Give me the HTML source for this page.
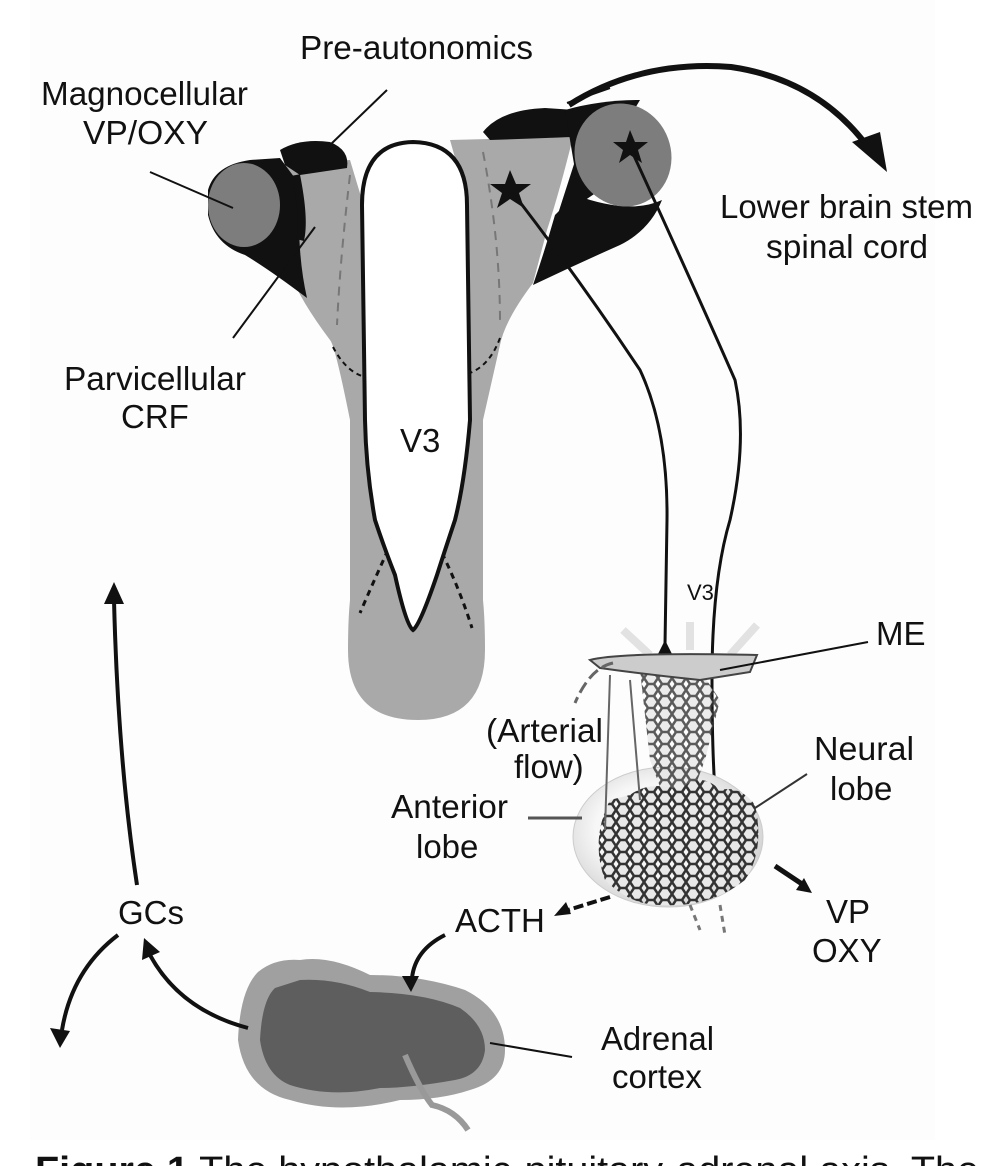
<!DOCTYPE html>
<html><head><meta charset="utf-8"><style>
html,body{margin:0;padding:0;background:#fff;}
svg{display:block;}
text{font-family:"Liberation Sans",sans-serif;fill:#111;}
</style></head><body>
<svg width="992" height="1166" viewBox="0 0 992 1166" xmlns="http://www.w3.org/2000/svg">
<defs>
<radialGradient id="sph" cx="0.45" cy="0.45" r="0.6"><stop offset="0.55" stop-color="#f7f7f7"/><stop offset="1" stop-color="#cfcfcf"/></radialGradient>
<pattern id="mesh" width="14" height="12" patternUnits="userSpaceOnUse"><path d="M0,6 L4,0 L10,0 L14,6 L10,12 L4,12 Z" fill="#e8e8e8" stroke="#333" stroke-width="2.5"/></pattern>
</defs>
<rect x="30" y="0" width="905" height="1140" fill="#fdfdfd"/>

<!-- gray funnel -->
<path d="M277,165 L350,160 L362,200 Q365,145 413,142 Q462,145 467,200 L450,140 L573,137 Q560,190 547,230 L533,283 Q505,320 500,345 L483,420 L483,600 Q485,620 485,650 Q485,720 418,720 Q348,720 348,650 Q348,620 350,600 L350,420 Q335,345 330,340 Q300,300 290,273 Z" fill="#a9a9a9"/>

<!-- left black + circle -->
<path d="M208,190 Q215,165 250,160 L280,158 L300,185 Q296,250 307,298 Q270,270 245,255 Q215,245 208,215 Z" fill="#111"/>
<path d="M280,150 Q300,138 330,142 Q350,150 347,168 L300,175 L285,165 Z" fill="#111"/>
<ellipse cx="244" cy="205" rx="36" ry="42" fill="#7d7d7d"/>
<path d="M296,175 Q305,220 300,240" stroke="#111" stroke-width="8" fill="none"/>

<!-- right black + circle -->
<path d="M483,132 Q500,110 545,108 L575,110 L573,137 L490,140 Z" fill="#111"/>
<path d="M565,110 Q600,100 640,100 L580,200 Z" fill="#111"/>
<path d="M575,195 Q630,215 662,200 Q650,230 620,245 Q575,265 533,285 Q545,250 555,215 Z" fill="#111"/>
<path d="M556,220 L585,130 L600,190 Z" fill="#111"/>
<ellipse cx="623" cy="155" rx="48" ry="52" transform="rotate(-20 623 155)" fill="#7d7d7d"/>
<path d="M630,130 l5,12 13,0 -10,8 4,13 -12,-8 -11,8 4,-13 -10,-8 13,0z" fill="#111"/>
<path d="M510,170 l6,14 15,0 -12,9 5,15 -14,-9 -13,9 5,-15 -12,-9 15,0z" fill="#111"/>

<!-- dashed lines -->
<path d="M350,175 Q340,260 337,325" stroke="#777" stroke-width="2" stroke-dasharray="9,7" fill="none"/>
<path d="M483,152 Q500,240 500,322" stroke="#777" stroke-width="2" stroke-dasharray="9,7" fill="none"/>
<path d="M333,347 Q345,370 362,376" stroke="#111" stroke-width="2" stroke-dasharray="5,4" fill="none"/>
<path d="M500,338 Q490,365 470,373" stroke="#111" stroke-width="2" stroke-dasharray="5,4" fill="none"/>
<path d="M388,550 Q372,585 360,613" stroke="#111" stroke-width="3" stroke-dasharray="6,5" fill="none"/>
<path d="M442,553 Q460,590 472,628" stroke="#111" stroke-width="3" stroke-dasharray="6,5" fill="none"/>

<!-- V3 slot -->
<path d="M362,205 Q362,143 413,142 Q467,143 467,205 L470,420 Q465,480 455,520 Q445,550 437,575 Q420,625 413,630 Q406,625 395,575 Q385,550 375,520 Q366,470 365,420 Z" fill="#fff" stroke="#111" stroke-width="4"/>

<!-- pointer lines -->
<line x1="387" y1="90" x2="330" y2="145" stroke="#111" stroke-width="2"/>
<line x1="150" y1="172" x2="233" y2="208" stroke="#111" stroke-width="2"/>
<line x1="315" y1="227" x2="233" y2="338" stroke="#111" stroke-width="2"/>
<line x1="567" y1="103" x2="610" y2="88" stroke="#111" stroke-width="2"/>

<!-- axons -->
<path d="M513,193 Q580,280 640,370 Q668,430 667,520 L665,645" stroke="#111" stroke-width="3" fill="none"/>
<path d="M665,640 l-8,16 16,0z" fill="#111"/>
<path d="M630,147 Q700,300 735,380 Q748,440 730,520 Q712,580 712,680 Q712,790 720,837" stroke="#111" stroke-width="3" fill="none"/>
<path d="M720,825 l-7,15 14,0z" fill="#111"/>

<!-- big arrow right -->
<path d="M569,105 Q640,60 731,67 Q820,80 870,150" stroke="#111" stroke-width="6" fill="none"/>
<path d="M887,172 L852,142 L880,132z" fill="#111"/>

<!-- pituitary -->
<path d="M623,630 L650,655 M757,625 L730,655 M690,622 L690,650" stroke="#e2e2e2" stroke-width="8"/>
<ellipse cx="668" cy="837" rx="95" ry="70" fill="url(#sph)" stroke="#ccc"/>
<path d="M610,800 Q590,840 605,880 Q630,905 660,905 Q710,908 745,880 Q765,850 755,805 Q740,785 720,790 Q700,770 680,790 Q650,780 630,795 Z" fill="url(#mesh)"/>
<path d="M640,670 L700,670 L720,700 L705,760 L690,800 L665,800 L650,760 Z" fill="url(#mesh)" opacity="0.8"/>
<path d="M590,660 Q620,652 757,655 L750,672 L700,680 Q650,675 600,668 Z" fill="#ccc" stroke="#444" stroke-width="2"/>
<path d="M613,663 Q590,668 575,703" stroke="#666" stroke-width="3" stroke-dasharray="12,5" fill="none"/>
<path d="M610,675 L605,830 M630,680 L640,800" stroke="#666" stroke-width="2" fill="none"/>
<path d="M690,905 L700,930 M720,905 L725,935" stroke="#777" stroke-width="3" stroke-dasharray="6,5"/>
<line x1="720" y1="670" x2="868" y2="642" stroke="#111" stroke-width="2"/>
<line x1="755" y1="808" x2="807" y2="774" stroke="#333" stroke-width="2"/>
<line x1="528" y1="818" x2="582" y2="818" stroke="#555" stroke-width="3"/>
<path d="M610,897 L568,910" stroke="#111" stroke-width="4" stroke-dasharray="10,4"/>
<path d="M554,916 l12,-14 5,12z" fill="#111"/>
<path d="M775,866 L802,884" stroke="#111" stroke-width="5"/>
<path d="M812,893 l-16,-3 8,-12z" fill="#111"/>

<!-- adrenal -->
<path d="M300,960 Q330,955 370,975 Q420,975 465,990 Q505,1010 505,1050 Q505,1080 470,1090 Q440,1100 400,1100 Q340,1115 290,1100 Q245,1090 238,1040 Q240,990 258,972 Q275,958 300,960 Z" fill="#a0a0a0"/>
<path d="M300,980 Q335,978 370,992 Q425,993 460,1008 Q485,1025 485,1050 Q482,1075 455,1080 Q410,1088 380,1088 Q330,1098 290,1085 Q265,1075 260,1040 Q262,1000 275,988 Z" fill="#5e5e5e"/>
<path d="M405,1055 Q420,1090 432,1105 Q455,1110 468,1130" stroke="#999" stroke-width="6" fill="none"/>
<line x1="490" y1="1043" x2="572" y2="1057" stroke="#111" stroke-width="2"/>

<!-- feedback arrows -->
<path d="M137,885 Q118,760 114,600" stroke="#111" stroke-width="4" fill="none"/>
<path d="M114,582 l-10,22 20,0z" fill="#111"/>
<path d="M248,1028 Q180,1010 150,955" stroke="#111" stroke-width="4" fill="none"/>
<path d="M144,938 l-2,22 18,-8z" fill="#111"/>
<path d="M118,935 Q72,970 62,1030" stroke="#111" stroke-width="4" fill="none"/>
<path d="M60,1048 l-10,-20 20,3z" fill="#111"/>
<path d="M445,935 Q415,950 412,978" stroke="#111" stroke-width="4" fill="none"/>
<path d="M411,992 l-9,-16 17,0z" fill="#111"/>

<!-- labels -->
<g font-size="33">
<text x="300" y="59" textLength="233" lengthAdjust="spacingAndGlyphs">Pre-autonomics</text>
<text x="41" y="105" textLength="207" lengthAdjust="spacingAndGlyphs">Magnocellular</text>
<text x="83" y="144" textLength="125" lengthAdjust="spacingAndGlyphs">VP/OXY</text>
<text x="720" y="218" textLength="253" lengthAdjust="spacingAndGlyphs">Lower brain stem</text>
<text x="766" y="258" textLength="162" lengthAdjust="spacingAndGlyphs">spinal cord</text>
<text x="64" y="390" textLength="182" lengthAdjust="spacingAndGlyphs">Parvicellular</text>
<text x="121" y="428">CRF</text>
<text x="400" y="452">V3</text>
<text x="876" y="645">ME</text>
<text x="486" y="742" textLength="117" lengthAdjust="spacingAndGlyphs">(Arterial</text>
<text x="514" y="778">flow)</text>
<text x="814" y="760" textLength="100" lengthAdjust="spacingAndGlyphs">Neural</text>
<text x="830" y="800">lobe</text>
<text x="391" y="818" textLength="117" lengthAdjust="spacingAndGlyphs">Anterior</text>
<text x="416" y="858">lobe</text>
<text x="455" y="932">ACTH</text>
<text x="826" y="923">VP</text>
<text x="812" y="962">OXY</text>
<text x="118" y="924">GCs</text>
<text x="601" y="1050" textLength="113" lengthAdjust="spacingAndGlyphs">Adrenal</text>
<text x="612" y="1088">cortex</text>
</g>
<text x="687" y="600" font-size="22">V3</text>
<text x="35" y="1183" font-size="38" textLength="944" lengthAdjust="spacingAndGlyphs"><tspan font-weight="bold">Figure 1</tspan>  The hypothalamic-pituitary-adrenal axis. The</text>
</svg>
</body></html>
